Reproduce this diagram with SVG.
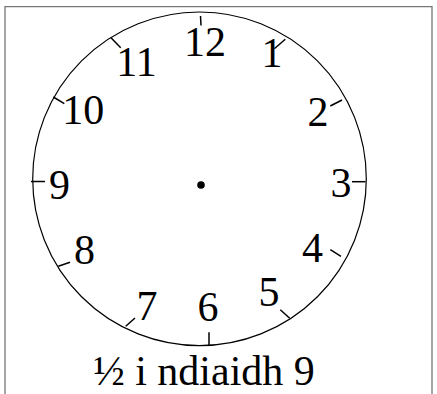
<svg xmlns="http://www.w3.org/2000/svg" width="437" height="394" viewBox="0 0 437 394">
<style>
.num{font-family:"Liberation Serif","Times New Roman",serif;font-size:42px;fill:#000;text-anchor:middle}
.tick{stroke:#000;stroke-width:1.5;fill:none}
.face{stroke:#000;stroke-width:1.2;fill:none}
.frame{stroke:#777;stroke-width:1.3;fill:none}
.cap{font-family:"Liberation Serif","Times New Roman",serif;font-size:42px;fill:#000;text-anchor:middle}
</style>
<rect width="437" height="394" fill="#fff"/>
<path class="frame" d="M5,400 V6.7 H432 V400"/>
<g id="clock-face">
<circle class="face" cx="199.5" cy="178.8" r="166.8"/>
<circle cx="201" cy="185" r="3.8" fill="#000"/>
</g>
<g id="ticks">
<line class="tick" x1="200.5" y1="16" x2="201" y2="25.5"/>
<line class="tick" x1="285.3" y1="39.3" x2="274.3" y2="48.7"/>
<line class="tick" x1="342" y1="100" x2="330.3" y2="106"/>
<line class="tick" x1="352" y1="181.7" x2="365.5" y2="181.7"/>
<line class="tick" x1="330.3" y1="249.7" x2="341" y2="256.3"/>
<line class="tick" x1="280.3" y1="309.7" x2="289.7" y2="318.3"/>
<line class="tick" x1="209" y1="332.3" x2="209" y2="345.7"/>
<line class="tick" x1="125.7" y1="326.3" x2="135" y2="318"/>
<line class="tick" x1="58.3" y1="266.3" x2="70" y2="262.3"/>
<line class="tick" x1="31" y1="181.5" x2="45" y2="181.5"/>
<line class="tick" x1="53.3" y1="97" x2="64.3" y2="103.7"/>
<line class="tick" x1="111" y1="37.7" x2="120.7" y2="47.7"/>
</g>
<g id="numbers">
<text class="num" x="205" y="55.5">12</text>
<text class="num" x="272" y="66.5">1</text>
<text class="num" x="318" y="126">2</text>
<text class="num" x="341" y="196.5">3</text>
<text class="num" x="312.5" y="262">4</text>
<text class="num" x="269" y="306">5</text>
<text class="num" x="208" y="321">6</text>
<text class="num" x="147" y="320">7</text>
<text class="num" x="84.5" y="263.5">8</text>
<text class="num" x="59.5" y="198.5">9</text>
<text class="num" x="83.3" y="124">10</text>
<text class="num" x="136.5" y="76">11</text>
</g>
<text class="cap" x="204" y="385">½ i ndiaidh 9</text>
</svg>
